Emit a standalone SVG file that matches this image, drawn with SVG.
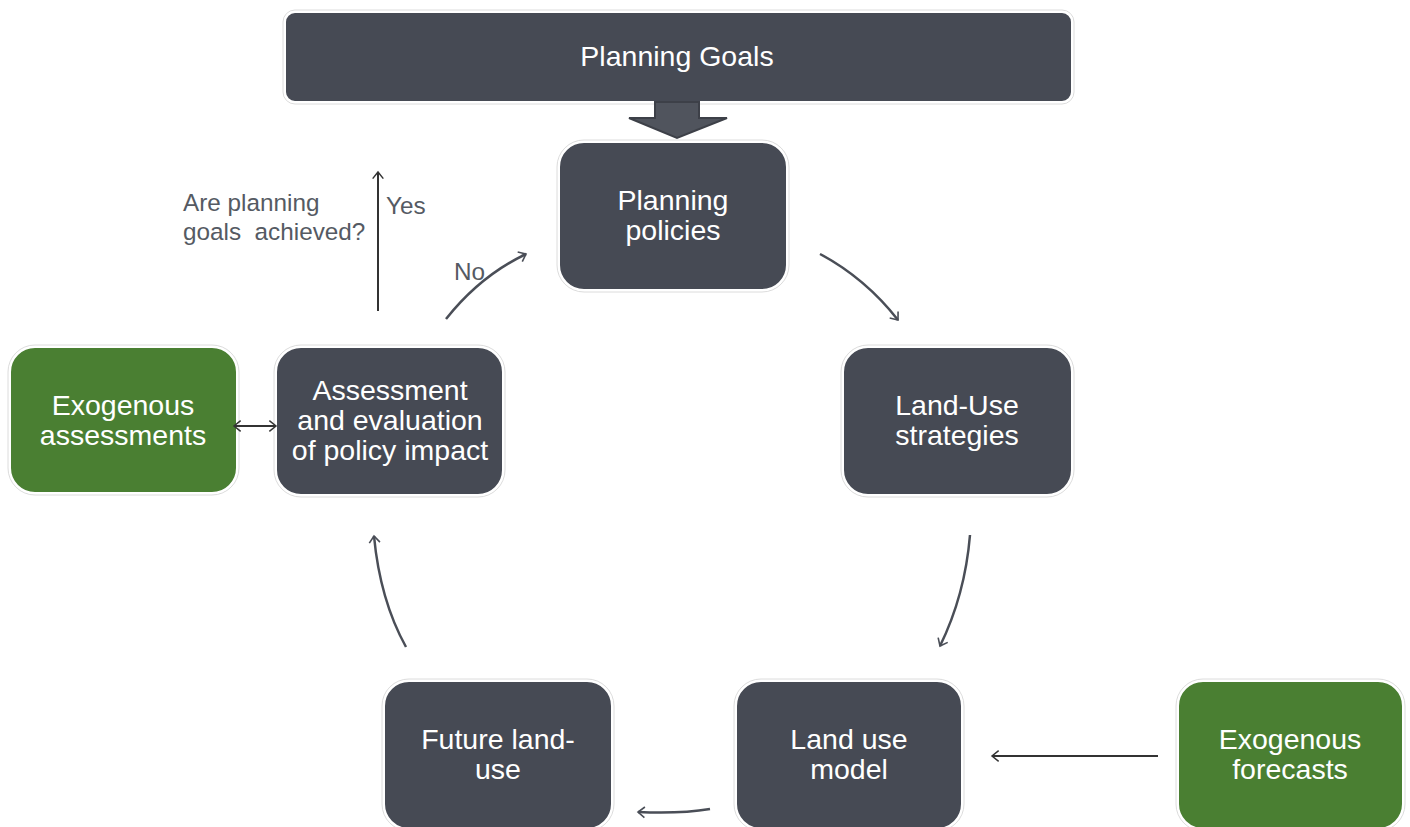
<svg xmlns="http://www.w3.org/2000/svg" width="1410" height="827" viewBox="0 0 1410 827">
<defs>
<style>
.dark{fill:#464a54;stroke:#ffffff;stroke-width:2}
.green{fill:#4a7f32;stroke:#ffffff;stroke-width:2}
.halo{fill:none;stroke:#dcdcdc;stroke-width:1}
.t{font-family:"Liberation Sans",Arial,sans-serif;font-size:28.5px;fill:#ffffff;text-anchor:middle}
.lbl{font-family:"Liberation Sans",Arial,sans-serif;font-size:24.3px;fill:#555a63}
.curve{fill:none;stroke:#4a4e57;stroke-width:2.5;marker-end:url(#ah)}
.line{fill:none;stroke:#333333;stroke-width:2}
</style>
<marker id="ah" viewBox="0 0 12 12" refX="10" refY="6" markerWidth="8" markerHeight="8" markerUnits="userSpaceOnUse" orient="auto" overflow="visible">
<path d="M0,-2 L10,6 L0,14" fill="none" stroke="#4a4e57" stroke-width="2.4"/>
</marker>
<marker id="ah2" viewBox="0 0 12 12" refX="10" refY="6" markerWidth="8" markerHeight="8" markerUnits="userSpaceOnUse" orient="auto" overflow="visible">
<path d="M0,-2 L10,6 L0,14" fill="none" stroke="#333333" stroke-width="2.2"/>
</marker>
<marker id="ah2s" viewBox="0 0 12 12" refX="2" refY="6" markerWidth="8" markerHeight="8" markerUnits="userSpaceOnUse" orient="auto" overflow="visible">
<path d="M12,-2 L2,6 L12,14" fill="none" stroke="#333333" stroke-width="2.2"/>
</marker>
</defs>

<g id="goals">
<rect x="283" y="10" width="791" height="94" rx="12" class="halo"/>
<rect x="285" y="12" width="787" height="90" rx="10" class="dark"/>
<text x="677" y="66" class="t">Planning Goals</text>
</g>

<g id="block-arrow">
<path d="M655,102 L699,102 L699,118 L727,118 L677,138 L629,118 L655,118 Z" fill="#50545d" stroke="#3d4048" stroke-width="2"/>
</g>

<g id="policies">
<rect x="557" y="140" width="232" height="152" rx="27" class="halo"/>
<rect x="559" y="142" width="228" height="148" rx="25" class="dark"/>
<text x="673" y="210" class="t">Planning</text>
<text x="673" y="240" class="t">policies</text>
</g>

<g id="strategies">
<rect x="841" y="345" width="233" height="152" rx="27" class="halo"/>
<rect x="843" y="347" width="229" height="148" rx="25" class="dark"/>
<text x="957" y="415" class="t">Land-Use</text>
<text x="957" y="445" class="t">strategies</text>
</g>

<g id="assessment">
<rect x="274" y="345" width="231" height="152" rx="27" class="halo"/>
<rect x="276" y="347" width="227" height="148" rx="25" class="dark"/>
<text x="390" y="400" class="t">Assessment</text>
<text x="390" y="430" class="t">and evaluation</text>
<text x="390" y="460" class="t">of policy impact</text>
</g>

<g id="exo-assess">
<rect x="8" y="345" width="231" height="150" rx="27" class="halo"/>
<rect x="10" y="347" width="227" height="146" rx="25" class="green"/>
<text x="123" y="415" class="t">Exogenous</text>
<text x="123" y="445" class="t">assessments</text>
</g>

<g id="future">
<rect x="382" y="679" width="232" height="152" rx="27" class="halo"/>
<rect x="384" y="681" width="228" height="148" rx="25" class="dark"/>
<text x="498" y="749" class="t">Future land-</text>
<text x="498" y="779" class="t">use</text>
</g>

<g id="model">
<rect x="734" y="679" width="230" height="152" rx="27" class="halo"/>
<rect x="736" y="681" width="226" height="148" rx="25" class="dark"/>
<text x="849" y="749" class="t">Land use</text>
<text x="849" y="779" class="t">model</text>
</g>

<g id="exo-forecast">
<rect x="1176" y="679" width="229" height="152" rx="27" class="halo"/>
<rect x="1178" y="681" width="225" height="148" rx="25" class="green"/>
<text x="1290" y="749" class="t">Exogenous</text>
<text x="1290" y="779" class="t">forecasts</text>
</g>

<g id="connectors">
<path d="M820,254 Q865,278 898,320" class="curve"/>
<path d="M970,535 Q965,595 940,646" class="curve"/>
<path d="M710,809 Q680,814 638,812" class="curve"/>
<path d="M406,647 Q380,600 374,536" class="curve"/>
<path d="M446,319 Q480,276 526,254" class="curve"/>
<path d="M378,311 L378,172" class="line" marker-end="url(#ah2)"/>
<path d="M234,426 L276,426" class="line" marker-start="url(#ah2s)" marker-end="url(#ah2)"/>
<path d="M1158,756 L992,756" class="line" marker-end="url(#ah2)"/>
</g>

<g id="labels">
<text x="183" y="211" class="lbl">Are planning</text>
<text x="183" y="240" class="lbl" xml:space="preserve">goals  achieved?</text>
<text x="386" y="214" class="lbl">Yes</text>
<text x="454" y="280" class="lbl">No</text>
</g>
</svg>
